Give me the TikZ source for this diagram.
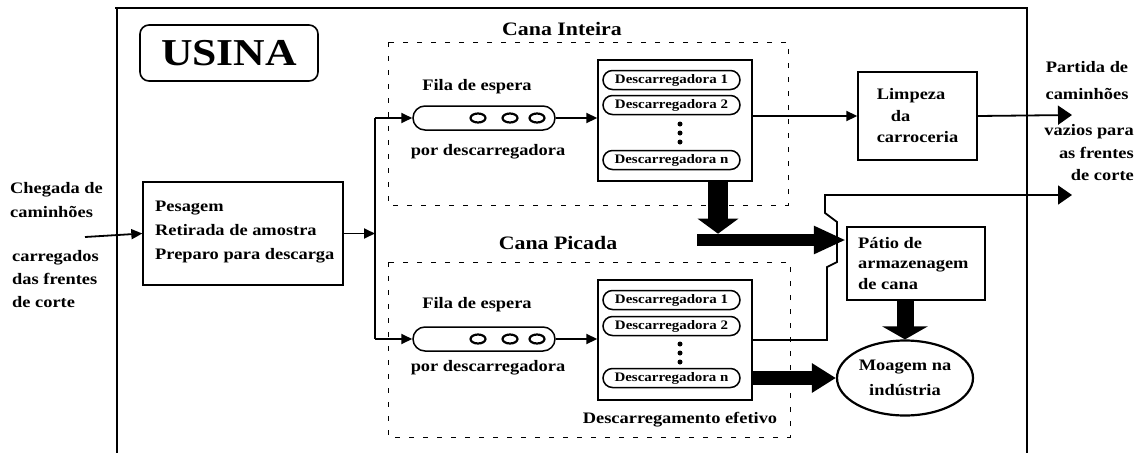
\documentclass[tikz,border=0pt]{standalone}
\usepackage{fontspec}
\setmainfont[FakeStretch=1.15]{Liberation Serif}
\usetikzlibrary{calc,arrows.meta,shapes.geometric,shapes.misc}

\tikzset{
	lbl/.style={font=\bfseries\fontsize{16}{24}\selectfont, inner sep=0pt},
	hdr/.style={font=\bfseries\fontsize{19}{22}\selectfont, inner sep=0pt},
	pill/.style={draw, line width=1.5pt, rounded rectangle, minimum width=137, minimum height=19, inner sep=0pt, font=\bfseries\fontsize{13}{14}\selectfont},
	tube/.style={draw, line width=1.5pt, rounded rectangle, minimum width=142, minimum height=24, inner sep=0pt},
	box/.style={draw, line width=1.4pt, inner sep=0pt},
	zone/.style={line width=1pt, dash pattern=on 5pt off 9pt},
	flow/.style={line width=1.8pt, -{Triangle[length=11pt,width=10pt]}},
	exitflow/.style={line width=1.8pt, -{Triangle[length=14pt,width=19pt]}}
}

\begin{document}
\begin{tikzpicture}[x=1pt,y=-1pt]
			%%%%% START %%%%%
			\useasboundingbox (0,0) rectangle (1143,453);
			
			% frame of the mill
			\draw[line width=2pt] (115,8) -- (1028,8);
			\draw[line width=2pt] (117,8) -- (117,453);
			\draw[line width=2pt] (1027,8) -- (1027,453);
			
			\node[draw, rounded corners=9pt, line width=1.6pt, minimum width=178, minimum height=56, inner sep=0pt, font=\bfseries\fontsize{38}{40}\selectfont] (usina) at (229,53) {USINA};
			
			% arrival
			\node[lbl, align=left, anchor=west] (chegada) at (10,200) {Chegada de\\caminhões};
			\node[lbl, align=left, anchor=west, font=\bfseries\fontsize{16}{23}\selectfont] (carregados) at (12,279) {carregados\\das frentes\\de corte};
			\coordinate (entrada) at (85,237);
			
			\node[box, minimum width=200, minimum height=103] (pesagem) at (243,233.5) {};
			\node[lbl, align=left, anchor=west] (pesagemtxt) at (155,232) {Pesagem\\Retirada de amostra\\Preparo para descarga};
			\draw[flow] (entrada) -- (pesagem.west);
			
			% split to the two queues
			\coordinate (busA) at (375,118);
			\coordinate (busB) at (375,339);
			\draw[flow] (pesagem.east) -- (pesagem.east -| busA);
			\draw[line width=2.2pt] (busA) -- (busB);
			
			% zones
			\draw[zone] (388,42) rectangle (788,205);
			\node[hdr] (inteira) at (562,29) {Cana Inteira};
			\draw[zone] (388,262) rectangle (790,437);
			\node[hdr] (picada) at (558,243) {Cana Picada};
			\node[lbl] (efetivo) at (680,420) {Descarregamento efetivo};
			
			% queues
			\node[tube] (filaA) at (484,118) {};
			\node[tube] (filaB) at (484,339) {};
			\foreach \cx in {478,510,537} {
				\draw[line width=2.2pt] (\cx,118) ellipse (7.5pt and 4.5pt);
				\draw[line width=2.2pt] (\cx,339) ellipse (7.5pt and 4.5pt);
			}
			\node[lbl] (filaAtxt) at (477,87) {Fila de espera};
			\node[lbl] (porA) at (488,152) {por descarregadora};
			\node[lbl] (filaBtxt) at (477,305) {Fila de espera};
			\node[lbl] (porB) at (488,368) {por descarregadora};
			\draw[flow] (busA) -- (filaA.west);
			\draw[flow] (busB) -- (filaB.west);
			
			% unloaders
			\node[box, minimum width=154, minimum height=121] (descA) at (675,120.5) {};
			\node[pill] (dA1) at (671.5,80) {Descarregadora 1};
			\node[pill] (dA2) at (671.5,105) {Descarregadora 2};
			\node[pill] (dAn) at (671.5,160) {Descarregadora n};
			\node[box, minimum width=154, minimum height=120] (descB) at (675,340) {};
			\node[pill] (dB1) at (671.5,300) {Descarregadora 1};
			\node[pill] (dB2) at (671.5,326) {Descarregadora 2};
			\node[pill] (dBn) at (671.5,378) {Descarregadora n};
			\foreach \dy in {0,9,18} {
				\fill (680,124+\dy) circle (2.5pt);
				\fill (680,344+\dy) circle (2.5pt);
			}
			\draw[flow] (filaA.east) -- (descA.west |- filaA.east);
			\draw[flow] (filaB.east) -- (descB.west |- filaB.east);
			
			% cleaning and exit
			\node[box, minimum width=119, minimum height=88, lbl, align=left, font=\bfseries\fontsize{16}{21.5}\selectfont] (limpeza) at (917.5,116) {Limpeza\\\hspace*{14pt}da\\carroceria};
			\draw[flow] (descA.east |- limpeza.west) -- (limpeza.west);
			\coordinate (saidaA) at (1072,115);
			\draw[exitflow] (limpeza.east) -- (saidaA);
			\node[lbl, align=center, font=\bfseries\fontsize{16}{27}\selectfont] (partida) at (1087,81) {Partida de\\caminhões};
			\node[lbl, align=right, anchor=east, font=\bfseries\fontsize{16}{22.5}\selectfont] (vazios) at (1134,153) {vazios para\\as frentes\\de corte};
			
			% yard and milling
			\node[box, line width=2.2pt, minimum width=138, minimum height=73] (patio) at (916,263.5) {};
			\node[lbl, align=left, anchor=west, font=\bfseries\fontsize{16}{20.5}\selectfont] (patiotxt) at (858,263.5) {Pátio de\\armazenagem\\de cana};
			\node[ellipse, draw, line width=2.2pt, minimum width=136, minimum height=75, lbl, align=center, font=\bfseries\fontsize{16}{25}\selectfont] (moagem) at (905,378) {Moagem na\\indústria};
			
			% thick flows of cane
			\draw[line width=20pt, -{Triangle[length=15pt,width=40pt]}] ($(descA.south)+(43,0)$) -- ++(0,52);
			\coordinate (juncao) at (697,240);
			\draw[line width=12pt, -{Triangle[length=32pt,width=26pt]}] (juncao) -- (patio.west |- juncao);
			\draw[line width=17pt, -{Triangle[length=13pt,width=45pt]}] (moagem.north |- patio.south) -- (moagem.north);
			\draw[line width=14pt, -{Triangle[length=24pt,width=28pt]}] (descB.east |- moagem.west) -- (moagem.west);
			
			% empty trucks of chopped cane, jumping the thick flow
			\coordinate (saidaB) at (1072,195);
			\draw[exitflow] (descB.east) -- (827,340) -- (827,267) -- (837,262) -- (837,222) -- (825,213) -- (825,195) -- (saidaB);
			
			%%%%% END %%%%%
\end{tikzpicture}
\end{document}
